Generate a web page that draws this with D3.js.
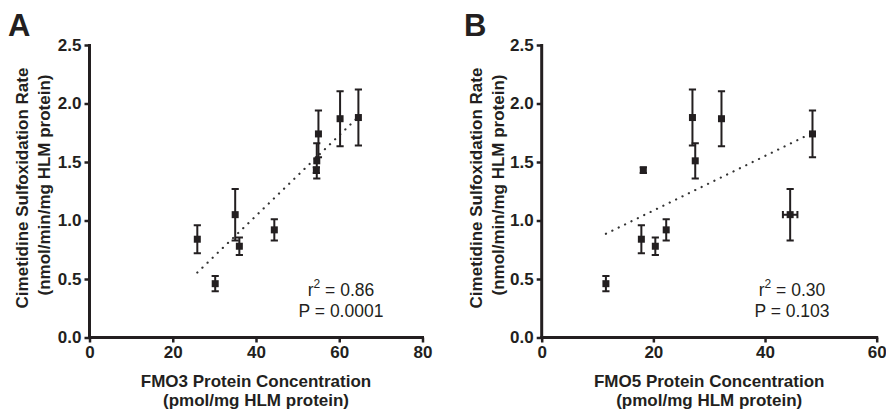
<!DOCTYPE html>
<html>
<head>
<meta charset="utf-8">
<script src="https://cdn.jsdelivr.net/npm/d3@7"></script>
<style>
  body { margin: 0; background: #fff; }
  svg { font-family: "Liberation Sans", Arial, sans-serif; }
  .axis path, .axis line { stroke: #231f20; }
  .axis text { font-size: 17px; font-weight: bold; fill: #231f20; }
</style>
</head>
<body>
<div id="chart"></div>
<script>
// rate of cimetidine sulfoxidation per HLM sample (mean, SD)
var rateMean = [0.46, 0.84, 0.78, 0.92, 1.43, 1.51, 1.88, 1.87, 1.05, 1.74];
var rateSD   = [0.065, 0.12, 0.075, 0.09, 0.025, 0.15, 0.24, 0.235, 0.22, 0.20];
// FMO3 / FMO5 protein concentration of the same samples
var fmo3     = [30.2, 25.9, 36.0, 44.4, 54.5, 54.6, 64.6, 60.2, 35.0, 55.0];
var fmo5     = [11.5, 17.85, 20.35, 22.3, 18.2, 27.5, 27.0, 32.2, 44.5, 48.5];
var fmo5SD   = [0, 0, 0, 0, 0, 0, 0, 0, 1.3, 0];

var yTicks  = [0, 0.5, 1.0, 1.5, 2.0, 2.5];
var xTicksA = [0, 20, 40, 60, 80];
var xTicksB = [0, 20, 40, 60];
var statsA  = ["0.86", "0.0001"];
var statsB  = ["0.30", "0.103"];

var width = 886, height = 414;
var ink = "#231f20";

var svg = d3.select("#chart")
    .append("svg")
    .attr("width", width)
    .attr("height", height);

function fit(xs, ys) {
    var mx = d3.mean(xs), my = d3.mean(ys);
    var sxy = d3.sum(xs, (x, i) => (x - mx) * (ys[i] - my));
    var sxx = d3.sum(xs, x => (x - mx) * (x - mx));
    var slope = sxy / sxx;
    return { slope: slope, intercept: my - slope * mx };
}

function panel(opt) {
    var xScale = d3.scaleLinear().domain([0, opt.xMax]).range([opt.left, opt.right]);
    var yScale = d3.scaleLinear().domain([0, 2.5]).range([337.5, 45]);

    var g = svg.append("g");

    // panel letter
    g.append("text")
        .attr("x", opt.letterX).attr("y", 36)
        .attr("font-size", "31px").attr("font-weight", "bold")
        .attr("fill", ink)
        .text(opt.letter);

    g.append("g")
        .attr("class", "axis")
        .attr("transform", "translate(" + opt.left + ",0)")
        .call(d3.axisLeft(yScale).tickValues(yTicks).tickFormat(d3.format(".1f"))
            .tickSize(5).tickSizeOuter(0).tickPadding(3))
        .call(a => a.select(".domain").attr("stroke-width", 3).attr("d", "M0,337.5V44"))
        .call(a => a.selectAll(".tick line").attr("stroke-width", 2.5));

    g.append("g")
        .attr("class", "axis")
        .attr("transform", "translate(0,337.5)")
        .call(d3.axisBottom(xScale).tickValues(opt.xTicks).tickFormat(d3.format("d"))
            .tickSize(5).tickSizeOuter(0).tickPadding(3.5))
        .call(a => a.select(".domain").attr("stroke-width", 3)
            .attr("d", "M" + (opt.left - 1.5) + ",0H" + (opt.right + 1.5)))
        .call(a => a.selectAll(".tick line").attr("stroke-width", 2.5));

    // axis titles
    var cx = (opt.left + opt.right) / 2;
    var xt = g.append("text").attr("text-anchor", "middle")
        .attr("font-size", "17px").attr("font-weight", "bold").attr("fill", ink);
    xt.append("tspan").attr("x", cx).attr("y", 387).text(opt.xTitle);
    xt.append("tspan").attr("x", cx).attr("y", 406).text("(pmol/mg HLM protein)");

    var yt = g.append("text").attr("text-anchor", "middle")
        .attr("font-size", "17px").attr("font-weight", "bold").attr("fill", ink)
        .attr("transform", "rotate(-90)");
    yt.append("tspan").attr("x", -188).attr("y", opt.yTitleX).text("Cimetidine Sulfoxidation Rate");
    yt.append("tspan").attr("x", -185).attr("y", opt.yTitleX + 22).text("(nmol/min/mg HLM protein)");

    // regression line (dotted)
    var f = fit(opt.xs, rateMean);
    var ext = d3.extent(opt.xs);
    g.append("line")
        .attr("x1", xScale(ext[0])).attr("y1", yScale(f.slope * ext[0] + f.intercept))
        .attr("x2", xScale(ext[1])).attr("y2", yScale(f.slope * ext[1] + f.intercept))
        .attr("stroke", "#333").attr("stroke-width", 2.2)
        .attr("stroke-linecap", "round")
        .attr("stroke-dasharray", "0.1 7");

    var pts = g.selectAll(".pt")
        .data(opt.xs.map((x, i) => ({ x: x, y: rateMean[i], sd: rateSD[i], xsd: opt.xsd ? opt.xsd[i] : 0 })))
        .enter().append("g").attr("class", "pt");

    var cap = 3.6;
    // vertical error bars
    pts.append("path")
        .attr("d", d => {
            var x = xScale(d.x), y1 = yScale(d.y + d.sd), y2 = yScale(d.y - d.sd);
            return "M" + x + "," + y1 + "V" + y2 +
                "M" + (x - cap) + "," + y1 + "H" + (x + cap) +
                "M" + (x - cap) + "," + y2 + "H" + (x + cap);
        })
        .attr("stroke", ink).attr("stroke-width", 2).attr("fill", "none");

    // horizontal error bars
    pts.filter(d => d.xsd > 0).append("path")
        .attr("d", d => {
            var y = yScale(d.y), x1 = xScale(d.x - d.xsd), x2 = xScale(d.x + d.xsd);
            return "M" + x1 + "," + y + "H" + x2 +
                "M" + x1 + "," + (y - cap) + "V" + (y + cap) +
                "M" + x2 + "," + (y - cap) + "V" + (y + cap);
        })
        .attr("stroke", ink).attr("stroke-width", 2).attr("fill", "none");

    var s = 7;
    pts.append("rect")
        .attr("x", d => xScale(d.x) - s / 2)
        .attr("y", d => yScale(d.y) - s / 2)
        .attr("width", s).attr("height", s)
        .attr("fill", ink);

    // statistics
    var st = g.append("text").attr("text-anchor", "middle")
        .attr("font-size", "17.5px").attr("fill", ink);
    var l1 = st.append("tspan").attr("x", opt.statX).attr("y", 296);
    l1.append("tspan").text("r");
    l1.append("tspan").attr("font-size", "12px").attr("dy", -8).text("2");
    l1.append("tspan").attr("dy", 8).text(" = " + opt.stats[0]);
    st.append("tspan").attr("x", opt.statX).attr("y", 316.5).text("P = " + opt.stats[1]);
}

panel({
    letter: "A", letterX: 8,
    left: 89.5, right: 422.5, xMax: 80, xTicks: xTicksA,
    xs: fmo3, xTitle: "FMO3 Protein Concentration",
    yTitleX: 28, stats: statsA, statX: 341
});

panel({
    letter: "B", letterX: 464,
    left: 541.7, right: 876.7, xMax: 60, xTicks: xTicksB,
    xs: fmo5, xsd: fmo5SD, xTitle: "FMO5 Protein Concentration",
    yTitleX: 482, stats: statsB, statX: 792
});
</script>
</body>
</html>
